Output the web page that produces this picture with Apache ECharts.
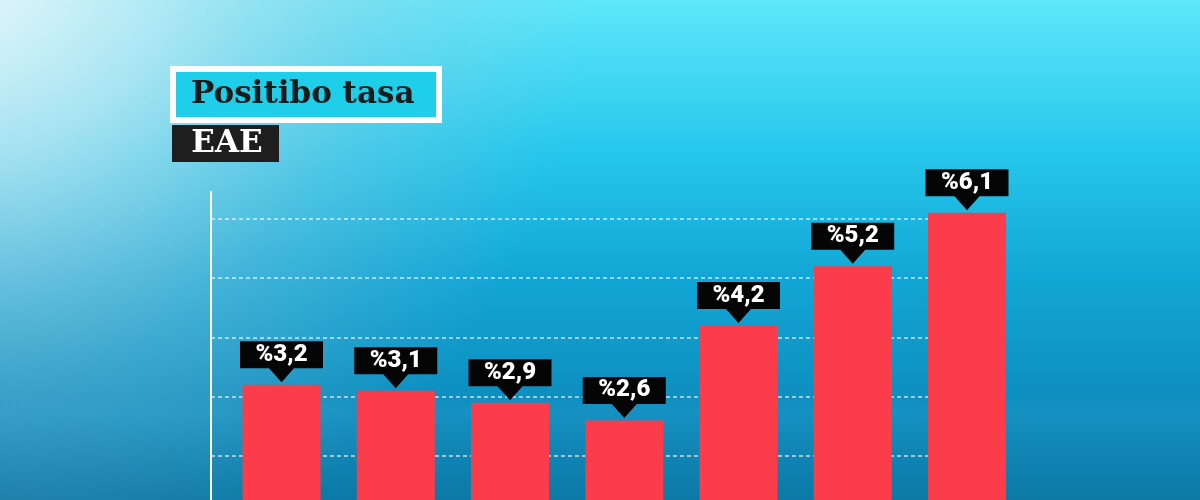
<!DOCTYPE html>
<html>
<head>
<meta charset="utf-8">
<script src="https://cdn.jsdelivr.net/npm/echarts@6/dist/echarts.min.js"></script>
<style>
html,body{margin:0;padding:0;background:#0b7ba8;}
#c{width:1200px;height:500px;}
</style>
</head>
<body>
<div id="c"></div>
<script>
// Data
const categories = ['1', '2', '3', '4', '5', '6', '7'];
const values = [3.2, 3.1, 2.9, 2.6, 4.2, 5.2, 6.1];
const gridValues = [2, 3, 4, 5, 6];
const titleText = 'Positibo tasa';
const subtitleText = 'EAE';

const chart = echarts.init(document.getElementById('c'), null, {renderer: 'canvas'});
const seriesData = values.map((v, i) => [i, v]);

const option = {
  animation: false,
  backgroundColor: {
    type: 'linear', x: 0, y: 0, x2: 0, y2: 1,
    colorStops: [
      {offset: 0, color: '#5fe7fb'},
      {offset: 0.3, color: '#26c8ec'},
      {offset: 0.55, color: '#12a7d6'},
      {offset: 0.8, color: '#0d8ebf'},
      {offset: 1, color: '#0b7aa6'}
    ]
  },
  graphic: [
    {
      type: 'rect', z: -10, silent: true,
      shape: {x: 0, y: 0, width: 1200, height: 500},
      style: {
        fill: {
          type: 'radial', x: -0.03, y: -0.05, r: 1.25,
          colorStops: [
            {offset: 0, color: 'rgba(240,249,251,0.95)'},
            {offset: 0.3, color: 'rgba(214,236,243,0.7)'},
            {offset: 0.65, color: 'rgba(175,208,222,0.3)'},
            {offset: 1, color: 'rgba(150,190,210,0)'}
          ]
        }
      }
    },
    {
      type: 'rect', z: -9, silent: true,
      shape: {x: 0, y: 395, width: 1200, height: 105},
      style: {
        fill: {
          type: 'linear', x: 0, y: 0, x2: 0, y2: 1,
          colorStops: [
            {offset: 0, color: 'rgba(60,170,220,0)'},
            {offset: 0.15, color: 'rgba(60,170,220,0.18)'},
            {offset: 1, color: 'rgba(20,110,160,0.1)'}
          ]
        }
      }
    },
    {
      type: 'rect', z: 10,
      shape: {x: 173, y: 69, width: 266, height: 51},
      style: {fill: '#1fcfe9', stroke: '#ffffff', lineWidth: 6}
    },
    {
      type: 'text', z: 11,
      x: 191, y: 95,
      style: {
        text: titleText, fill: '#1b1b1b',
        font: 'bold 31px "DejaVu Serif"',
        verticalAlign: 'middle', align: 'left'
      }
    },
    {
      type: 'rect', z: 10,
      shape: {x: 172, y: 125, width: 107, height: 37},
      style: {fill: '#1e1e1e'}
    },
    {
      type: 'text', z: 11,
      x: 227, y: 144,
      style: {
        text: subtitleText, fill: '#ffffff',
        font: 'bold 31px "DejaVu Serif"',
        verticalAlign: 'middle', align: 'center'
      }
    }
  ],
  grid: {left: 211, right: 192, top: 192, bottom: 0, containLabel: false},
  xAxis: {
    type: 'value', min: -0.617, max: 6.359,
    show: false
  },
  yAxis: {
    type: 'value', min: 1.26, max: 6.45,
    axisLine: {show: true, onZero: false, lineStyle: {color: '#ffffff', width: 2}},
    axisTick: {show: false},
    axisLabel: {show: false},
    splitLine: {show: false}
  },
  series: [
    {
      type: 'bar', name: 'Positibo tasa',
      data: seriesData,
      barWidth: 78,
      itemStyle: {color: '#fb3c4b'},
      z: 3,
      markLine: {
        silent: true, symbol: 'none', z: 1,
        label: {show: false},
        lineStyle: {color: 'rgba(255,255,255,0.75)', type: [4, 3], width: 1.5},
        data: gridValues.map(v => ({yAxis: v}))
      }
    },
    {
      type: 'scatter',
      data: seriesData,
      symbol: 'path://M0,0L83,0L83,27L54,27L41.5,41L29,27L0,27Z',
      symbolSize: [83, 41],
      symbolOffset: [0, -23],
      itemStyle: {color: '#050505', opacity: 1},
      z: 5,
      label: {
        show: true, position: 'inside', offset: [0, -7],
        formatter: p => '%' + String(p.value[1]).replace('.', ','),
        color: '#ffffff', fontFamily: 'Roboto', fontWeight: 900, fontSize: 24
      }
    }
  ]
};
chart.setOption(option);
</script>
</body>
</html>
